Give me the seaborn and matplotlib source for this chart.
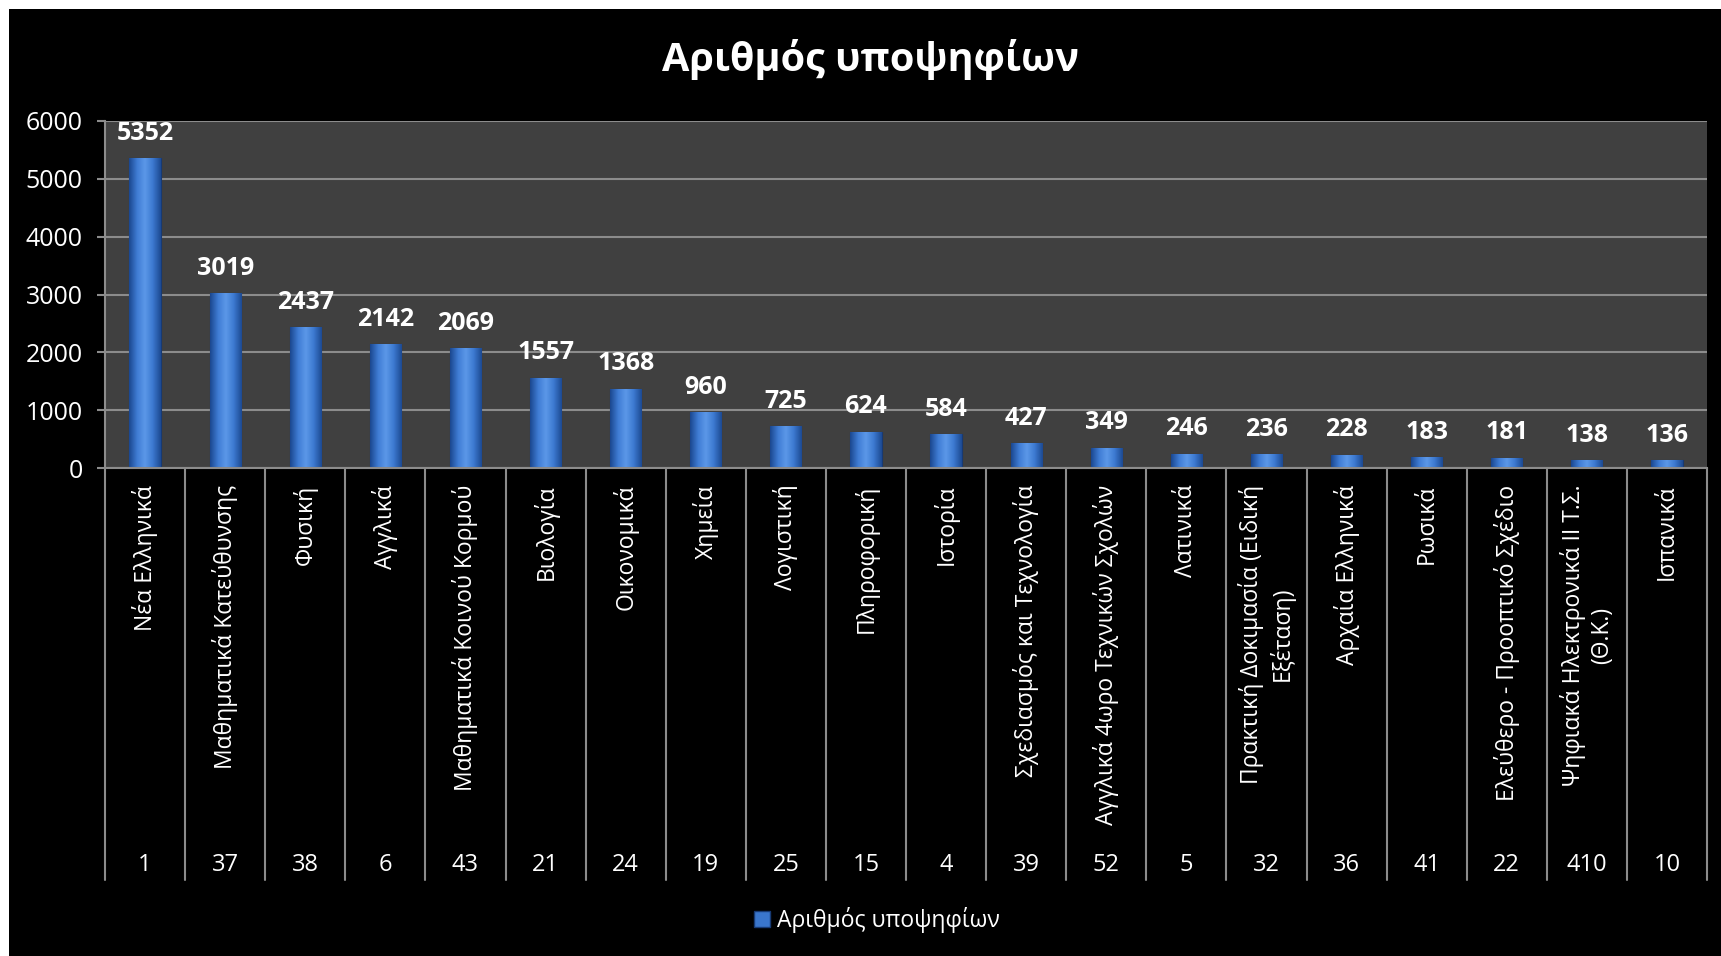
import numpy as np
import matplotlib
matplotlib.use("Agg")
import matplotlib.pyplot as plt
from matplotlib.patches import Patch, Rectangle
from matplotlib.colors import LinearSegmentedColormap
import seaborn as sns

# data
subjects = ["Νέα Ελληνικά", "Μαθηματικά Κατεύθυνσης", "Φυσική", "Αγγλικά",
            "Μαθηματικά Κοινού Κορμού", "Βιολογία", "Οικονομικά", "Χημεία",
            "Λογιστική", "Πληροφορική", "Ιστορία", "Σχεδιασμός και Τεχνολογία",
            "Αγγλικά 4ωρο Τεχνικών Σχολών", "Λατινικά",
            "Πρακτική Δοκιμασία (Ειδική\nΕξέταση)", "Αρχαία Ελληνικά", "Ρωσικά",
            "Ελεύθερο - Προοπτικό Σχέδιο", "Ψηφιακά Ηλεκτρονικά ΙΙ Τ.Σ.\n(Θ.Κ.)",
            "Ισπανικά"]
codes = ["1", "37", "38", "6", "43", "21", "24", "19", "25", "15",
         "4", "39", "52", "5", "32", "36", "41", "22", "410", "10"]
values = [5352, 3019, 2437, 2142, 2069, 1557, 1368, 960, 725, 624,
          584, 427, 349, 246, 236, 228, 183, 181, 138, 136]
y_ticks = [0, 1000, 2000, 3000, 4000, 5000, 6000]
series_name = "Αριθμός υποψηφίων"
title = "Αριθμός υποψηφίων"

sns.set_style("dark")
plt.rcParams['font.family'] = ['Open Sans', 'DejaVu Sans']

W, H = 1721, 956
fig = plt.figure(figsize=(W / 100, H / 100), dpi=100, facecolor='white')
# black chart area with thin white margin on top/left
fig.patches.append(Rectangle((9 / W, 0), 1, 1 - 9 / H, transform=fig.transFigure,
                             facecolor='black', edgecolor='none', zorder=-10))

ax = fig.add_axes([105 / W, 1 - 468 / H, (1707 - 105) / W, (468 - 121) / H])
ax.set_facecolor('#404040')

bar_color = '#3a76cc'
grid_color = '#8c8c8c'
sns.barplot(x=subjects, y=values, color=bar_color, width=0.39, saturation=1, ax=ax)

# gradient shading on each bar
grad_cmap = LinearSegmentedColormap.from_list(
    'bar', ['#1b4890', '#3f7cd4', '#5c98e8', '#3c79d0', '#1d4a92'])
grad = np.linspace(0, 1, 64).reshape(1, -1)
for p in ax.patches:
    x0, y0, w, h = p.get_x(), p.get_y(), p.get_width(), p.get_height()
    p.set_edgecolor('#173a74')
    p.set_linewidth(0.8)
    im = ax.imshow(grad, extent=[x0, x0 + w, y0, y0 + h], aspect='auto',
                   cmap=grad_cmap, zorder=p.get_zorder() + 0.1)
    im.set_clip_path(p)

ax.set_xlim(-0.5, len(subjects) - 0.5)
ax.set_ylim(0, 6000)
ax.set_yticks(y_ticks)
ax.yaxis.grid(True, color=grid_color, lw=1.5)
ax.xaxis.grid(False)
ax.set_axisbelow(True)
for s in ['top', 'right']:
    ax.spines[s].set_visible(False)
for s in ['left', 'bottom']:
    ax.spines[s].set_color(grid_color)
    ax.spines[s].set_linewidth(1.5)

ax.tick_params(axis='y', colors=grid_color, labelcolor='white', labelsize=18,
               length=6, width=1.5, pad=10, left=True)
ax.tick_params(axis='x', labelcolor='white', labelsize=16.5, length=0, pad=12,
               labelrotation=90)
for lbl in ax.get_xticklabels():
    lbl.set_multialignment('center')
    lbl.set_va('top')
ax.set_xlabel('')
ax.set_ylabel('')

# category separators and second-level codes
tr = ax.get_xaxis_transform()
for i in range(len(subjects) + 1):
    ax.plot([i - 0.5, i - 0.5], [0, -1.187], transform=tr, color=grid_color,
            lw=1.5, clip_on=False)
for i, c in enumerate(codes):
    ax.text(i, -1.144, c, transform=tr, ha='center', va='center',
            color='white', fontsize=17)

ax.bar_label(ax.containers[0], fmt='%d', padding=9, color='white',
             fontsize=18, fontweight='bold')

fig.text(870 / W, 1 - 60 / H, title, ha='center', va='center', color='white',
         fontsize=28.5, fontweight='bold')

fig.legend(handles=[Patch(facecolor=bar_color, edgecolor='#173a74')],
           labels=[series_name], loc='center', bbox_to_anchor=(877 / W, 1 - 920 / H),
           frameon=False, labelcolor='white', fontsize=16.5, handlelength=0.7,
           handleheight=0.7, handletextpad=0.3)

fig.savefig('out.png', dpi=100, facecolor='white')
